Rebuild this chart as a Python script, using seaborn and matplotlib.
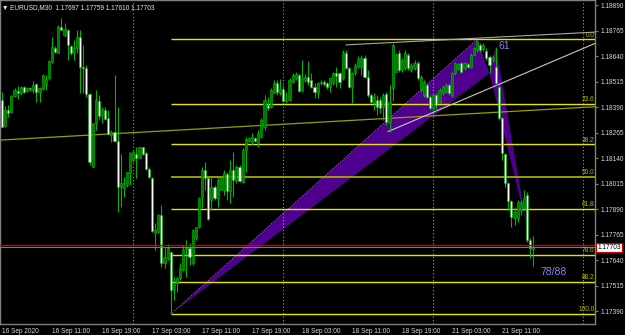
import numpy as np
import pandas as pd
import matplotlib
matplotlib.use("Agg")
import matplotlib.pyplot as plt
import matplotlib.transforms as mtransforms
import seaborn as sns

# ---------------- data ----------------
symbol = "EURUSD,M30"
opens = [
 1.18425,1.18298,1.18376,1.18368,1.18445,1.18469,1.18459,1.18487,1.18469,1.18484,
 1.18474,1.18503,1.18466,1.18479,1.18499,1.18531,1.18613,1.18678,1.18657,1.18784,
 1.18744,1.18768,1.18691,1.18654,1.18678,1.18732,1.18587,1.18580,1.18454,1.18098,
 1.18311,1.18422,1.18352,1.18376,1.18335,1.18254,1.18270,1.18224,1.18000,1.17994,
 1.18009,1.18066,1.18131,1.18160,1.18139,1.18193,1.18164,1.18088,1.18044,1.17775,
 1.17780,1.17862,1.17625,1.17649,1.17679,1.17494,1.17527,1.17551,1.17592,1.17693,
 1.17698,1.17625,1.17747,1.17804,1.17943,1.18082,1.18041,1.17935,1.18000,1.17943,
 1.17984,1.17984,1.18061,1.17981,1.18082,1.18033,1.18095,1.18025,1.18180,1.18226,
 1.18221,1.18237,1.18221,1.18245,1.18294,1.18400,1.18389,1.18458,1.18510,1.18458,
 1.18479,1.18420,1.18425,1.18515,1.18531,1.18548,1.18474,1.18523,1.18539,1.18523,
 1.18490,1.18458,1.18507,1.18515,1.18507,1.18490,1.18507,1.18559,1.18559,1.18531,
 1.18657,1.18580,1.18490,1.18556,1.18588,1.18588,1.18629,1.18539,1.18450,1.18409,
 1.18425,1.18425,1.18392,1.18453,1.18319,1.18484,1.18564,1.18654,1.18572,1.18582,
 1.18646,1.18572,1.18580,1.18605,1.18474,1.18450,1.18499,1.18441,1.18384,1.18450,
 1.18417,1.18458,1.18466,1.18499,1.18450,1.18556,1.18580,1.18605,1.18580,1.18600,
 1.18588,1.18646,1.18670,1.18695,1.18675,1.18665,1.18637,1.18621,1.18588,1.18490,
 1.18335,1.18159,1.18017,1.17930,1.17845,1.17845,1.17886,1.17902,1.17960,1.17739,
 1.17697]
highs = [
 1.18466,1.18396,1.18400,1.18450,1.18484,1.18494,1.18494,1.18494,1.18489,1.18489,
 1.18518,1.18507,1.18490,1.18552,1.18548,1.18621,1.18732,1.18690,1.18793,1.18825,
 1.18801,1.18775,1.18695,1.18719,1.18768,1.18768,1.18695,1.18597,1.18458,1.18312,
 1.18474,1.18450,1.18392,1.18392,1.18376,1.18278,1.18548,1.18392,1.18160,1.18049,
 1.18074,1.18172,1.18180,1.18196,1.18196,1.18196,1.18170,1.18098,1.18049,1.17821,
 1.17866,1.17911,1.17703,1.17719,1.17682,1.17559,1.17559,1.17625,1.17715,1.17739,
 1.17723,1.17795,1.17804,1.17951,1.18098,1.18123,1.18049,1.18049,1.18009,1.18049,
 1.18053,1.18082,1.18072,1.18131,1.18172,1.18105,1.18107,1.18188,1.18245,1.18245,
 1.18262,1.18245,1.18278,1.18335,1.18450,1.18441,1.18482,1.18523,1.18523,1.18526,
 1.18499,1.18464,1.18531,1.18556,1.18562,1.18556,1.18621,1.18552,1.18618,1.18556,
 1.18507,1.18515,1.18523,1.18523,1.18513,1.18539,1.18562,1.18588,1.18564,1.18670,
 1.18670,1.18588,1.18564,1.18605,1.18641,1.18646,1.18646,1.18572,1.18459,1.18458,
 1.18450,1.18441,1.18458,1.18466,1.18499,1.18704,1.18655,1.18670,1.18631,1.18670,
 1.18655,1.18606,1.18621,1.18616,1.18548,1.18523,1.18508,1.18450,1.18459,1.18458,
 1.18484,1.18499,1.18507,1.18508,1.18564,1.18613,1.18606,1.18611,1.18611,1.18606,
 1.18654,1.18686,1.18719,1.18703,1.18703,1.18678,1.18646,1.18646,1.18686,1.18499,
 1.18342,1.18165,1.18025,1.17935,1.17902,1.17935,1.17935,1.17984,1.17976,1.17747,
 1.17759]
lows = [
 1.18291,1.18293,1.18342,1.18361,1.18440,1.18430,1.18450,1.18459,1.18464,1.18469,
 1.18459,1.18417,1.18417,1.18474,1.18474,1.18523,1.18605,1.18655,1.18654,1.18768,
 1.18735,1.18621,1.18646,1.18621,1.18654,1.18458,1.18459,1.18441,1.18107,1.18097,
 1.18278,1.18327,1.18311,1.18327,1.18254,1.18221,1.18221,1.17878,1.17902,1.17951,
 1.18000,1.18009,1.18123,1.18041,1.18139,1.18156,1.18082,1.18043,1.17780,1.17690,
 1.17772,1.17608,1.17600,1.17641,1.17376,1.17445,1.17486,1.17545,1.17585,1.17559,
 1.17617,1.17617,1.17739,1.17796,1.17894,1.17984,1.17837,1.17886,1.17935,1.17902,
 1.17984,1.17960,1.17935,1.17919,1.17951,1.18017,1.18023,1.18017,1.18074,1.18221,
 1.18205,1.18221,1.18196,1.18237,1.18278,1.18376,1.18384,1.18458,1.18450,1.18450,
 1.18417,1.18410,1.18420,1.18508,1.18523,1.18466,1.18466,1.18513,1.18499,1.18482,
 1.18433,1.18433,1.18499,1.18494,1.18479,1.18466,1.18499,1.18490,1.18482,1.18523,
 1.18575,1.18482,1.18409,1.18548,1.18582,1.18548,1.18533,1.18441,1.18410,1.18376,
 1.18352,1.18360,1.18327,1.18303,1.18268,1.18420,1.18562,1.18562,1.18562,1.18572,
 1.18572,1.18562,1.18572,1.18523,1.18464,1.18441,1.18435,1.18376,1.18376,1.18368,
 1.18410,1.18450,1.18459,1.18450,1.18441,1.18548,1.18572,1.18557,1.18572,1.18582,
 1.18582,1.18641,1.18662,1.18662,1.18665,1.18621,1.18556,1.18613,1.18499,1.18327,
 1.18131,1.18000,1.17886,1.17804,1.17812,1.17827,1.17862,1.17886,1.17731,1.17649,
 1.17610]
closes = [
 1.18294,1.18376,1.18361,1.18445,1.18474,1.18458,1.18487,1.18466,1.18482,1.18479,
 1.18499,1.18466,1.18485,1.18548,1.18528,1.18618,1.18683,1.18662,1.18784,1.18768,
 1.18773,1.18695,1.18654,1.18678,1.18735,1.18585,1.18582,1.18454,1.18123,1.18311,
 1.18425,1.18347,1.18379,1.18330,1.18258,1.18270,1.18224,1.18000,1.18018,1.18017,
 1.18074,1.18167,1.18172,1.18139,1.18193,1.18160,1.18085,1.18046,1.17785,1.17788,
 1.17862,1.17625,1.17657,1.17698,1.17494,1.17528,1.17551,1.17600,1.17693,1.17698,
 1.17657,1.17788,1.17804,1.17943,1.18082,1.18041,1.17840,1.18000,1.17943,1.18033,
 1.18041,1.18066,1.17981,1.18082,1.18033,1.18098,1.18030,1.18180,1.18234,1.18237,
 1.18242,1.18226,1.18265,1.18327,1.18425,1.18384,1.18474,1.18510,1.18466,1.18479,
 1.18420,1.18430,1.18523,1.18548,1.18552,1.18471,1.18531,1.18539,1.18515,1.18490,
 1.18466,1.18507,1.18515,1.18503,1.18487,1.18531,1.18556,1.18543,1.18515,1.18662,
 1.18580,1.18490,1.18556,1.18597,1.18624,1.18629,1.18539,1.18450,1.18417,1.18441,
 1.18392,1.18384,1.18450,1.18319,1.18417,1.18695,1.18646,1.18572,1.18621,1.18654,
 1.18580,1.18597,1.18605,1.18531,1.18539,1.18515,1.18441,1.18384,1.18450,1.18400,
 1.18474,1.18490,1.18499,1.18458,1.18556,1.18605,1.18600,1.18564,1.18605,1.18585,
 1.18646,1.18678,1.18711,1.18670,1.18695,1.18629,1.18597,1.18637,1.18507,1.18335,
 1.18164,1.18017,1.17930,1.17853,1.17878,1.17927,1.17927,1.17943,1.17739,1.17701,
 1.17703]
ask_price = 1.17715

time_tick_bars = [0, 16, 32, 48, 64, 80, 96, 112, 128, 144, 160]
time_labels = ["16 Sep 2020", "16 Sep 11:00", "16 Sep 19:00", "17 Sep 03:00",
               "17 Sep 11:00", "17 Sep 19:00", "18 Sep 03:00", "18 Sep 11:00",
               "18 Sep 19:00", "21 Sep 03:00", "21 Sep 11:00"]
day_separator_bars = [42, 90, 138, 186]
price_ticks = [1.18890, 1.18765, 1.18640, 1.18515, 1.18390, 1.18265, 1.18140,
               1.18015, 1.17890, 1.17765, 1.17640, 1.17515, 1.17390]

fib_levels = [0.0, 23.6, 38.2, 50.0, 61.8, 78.6, 88.2, 100.0]
fib_labels = ["0.0", "23.6", "38.2", "50.0", "61.8", "78.6", "88.2", "100.0"]

# harmonic pattern points X, A, B, C, D
pattern_bars = [54, 152, 156, 158, 168]
pattern_prices = [1.17376, 1.18722, 1.18556, 1.18686, 1.17803]
pattern_text = ["61", "78/88"]

olive_line_bars = [0, 170]
olive_line_prices = [1.18229, 1.18375]
top_line_bars = [110, 152]
top_line_prices = [1.18695, 1.18728]
low_line_bars = [123.5, 156]
low_line_prices = [1.18270, 1.18482]

assert len(opens) == len(highs) == len(lows) == len(closes) == 171

# ---------------- style ----------------
sns.set_theme(style="dark", rc={"axes.facecolor": "black", "figure.facecolor": "black"})
FONT = ["Liberation Sans Narrow", "Liberation Sans", "DejaVu Sans"]
plt.rcParams["font.family"] = FONT
SMALL = 4.7

W, H = 625, 335
fig = plt.figure(figsize=(W / 100, H / 100), dpi=100)
fig.patch.set_facecolor("black")
ax = fig.add_axes([0.0, 11 / H, 595 / W, 324 / H])
ax.set_facecolor("black")

x_lo = (0 - 2) / 3.125
x_hi = (595 - 2) / 3.125
y_hi = 1.18915
y_lo = 1.18915 - 324 * 0.000049
ax.set_xlim(x_lo, x_hi)
ax.set_ylim(y_lo, y_hi)

df = pd.DataFrame({"i": np.arange(len(opens)), "o": opens, "h": highs,
                   "l": lows, "c": closes})

# purple pattern triangles (background)
px = pattern_bars
pp = pattern_prices
ax.fill([px[0], px[1], px[2]], [pp[0], pp[1], pp[2]], color="#4f008f", lw=0, zorder=1)
ax.fill([px[2], px[3], px[4]], [pp[2], pp[3], pp[4]], color="#4f008f", lw=0, zorder=1)
ax.plot([px[0], px[1]], [pp[0], pp[1]], color="#a0a0a0", lw=0.6, ls=(0, (1, 2)), zorder=1.2)

# day separators
for b in day_separator_bars:
    ax.axvline(b, color="#9a9a9a", lw=0.8, ls=(0, (1, 2)), zorder=1.5)

# fibonacci levels
hiA, loX = pp[1], pp[0]
for lev, lab in zip(fib_levels, fib_labels):
    p = hiA - lev / 100.0 * (hiA - loX)
    col = "#a8a800" if lev == 50.0 else "#e6e600"
    ax.hlines(p, px[0], x_hi, color=col, lw=1.3 if lev == 50.0 else 1.0, zorder=2)
    ax.text(189.6, p + 0.00004, lab, ha="right", va="bottom", color="#b8b800",
            fontsize=SMALL, zorder=6)

# trend lines
ax.axline((olive_line_bars[0], olive_line_prices[0]),
          (olive_line_bars[1], olive_line_prices[1]), color="#9c9c00", lw=0.9, zorder=2.5)
for bars, prices, col in [(top_line_bars, top_line_prices, "#a8a8a8"),
                          (low_line_bars, low_line_prices, "#c8c8c8")]:
    slope = (prices[1] - prices[0]) / (bars[1] - bars[0])
    y_end = prices[0] + (x_hi - bars[0]) * slope
    sns.lineplot(x=[bars[0], x_hi], y=[prices[0], y_end], color=col, lw=0.8,
                 ax=ax, estimator=None, sort=False, zorder=2.6)

# candles
ax.vlines(df.i, df.l, df.h, color="#00b400", lw=0.8, zorder=3)
bull = df.c >= df.o
bottom = np.minimum(df.o, df.c)
height = np.maximum(np.abs(df.c - df.o), 0.00002)
ax.bar(df.i[bull], height[bull], bottom=bottom[bull], width=0.7,
       color="#007800", edgecolor="#00c000", lw=0.4, zorder=4)
ax.bar(df.i[~bull], height[~bull], bottom=bottom[~bull], width=0.7,
       color="#f4fff4", edgecolor="#00b000", lw=0.4, zorder=4)

# bid / ask lines
ax.axhline(ask_price, color="#c80000", lw=1.0, zorder=5)
ax.axhline(closes[-1], color="#7a7a7a", lw=0.8, zorder=5)

# pattern labels
ax.text(158.8, 1.18690, pattern_text[0], color="#8f80f0", fontsize=7.5,
        ha="left", va="center", zorder=6)
ax.text(172.2, 1.17582, pattern_text[1], color="#8f80f0", fontsize=7.5,
        ha="left", va="center", zorder=6)

# header
ax.text(0.004, 0.988, "\u25bc " + symbol + "  " + " ".join(
        f"{v:.5f}" for v in (opens[-1], highs[-1], lows[-1], closes[-1])),
        transform=ax.transAxes, color="#e8e8e8", fontsize=SMALL, ha="left", va="top",
        zorder=7)

# axes
for s in ax.spines.values():
    s.set_color("#808080")
    s.set_linewidth(1.0)
    s.set_visible(True)
ax.yaxis.tick_right()
ax.set_yticks(price_ticks)
ax.set_yticklabels([f"{v:.5f}" for v in price_ticks])
ax.set_xticks(time_tick_bars)
ax.set_xticklabels(time_labels)
for lbl in ax.get_xticklabels():
    lbl.set_ha("left")
ax.tick_params(axis="both", colors="#808080", labelcolor="#d8d8d8",
               labelsize=SMALL, length=2.5, width=0.8, direction="out")
ax.tick_params(axis="x", pad=0.5)
ax.tick_params(axis="y", pad=1.5)
ax.set_xlabel("")
ax.set_ylabel("")
ax.grid(False)

# price box
trans = mtransforms.blended_transform_factory(ax.transAxes, ax.transData)
ax.text(1.004, closes[-1], f"{closes[-1]:.5f}", transform=trans, ha="left",
        va="center", color="black", fontsize=SMALL, zorder=8, clip_on=False,
        bbox=dict(boxstyle="square,pad=0.2", fc="white", ec="#d00000", lw=0.8))

fig.savefig("out.png", dpi=100, facecolor="black")
